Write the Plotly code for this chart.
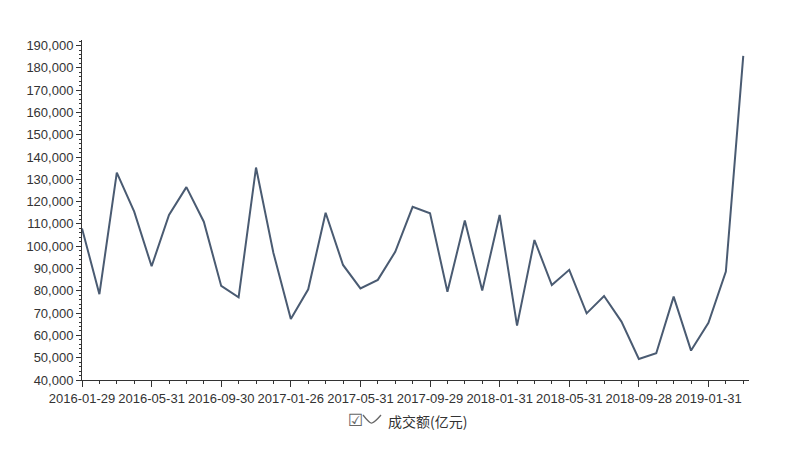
import plotly.graph_objects as go

dates = [
    "2016-01-29", "2016-02-29", "2016-03-31", "2016-04-29", "2016-05-31", "2016-06-30",
    "2016-07-29", "2016-08-31", "2016-09-30", "2016-10-31", "2016-11-30", "2016-12-30",
    "2017-01-26", "2017-02-28", "2017-03-31", "2017-04-28", "2017-05-31", "2017-06-30",
    "2017-07-31", "2017-08-31", "2017-09-29", "2017-10-31", "2017-11-30", "2017-12-29",
    "2018-01-31", "2018-02-28", "2018-03-30", "2018-04-27", "2018-05-31", "2018-06-29",
    "2018-07-31", "2018-08-31", "2018-09-28", "2018-10-31", "2018-11-30", "2018-12-28",
    "2019-01-31", "2019-02-28", "2019-03-29",
]
turnover = [
    108000, 78500, 133000, 115500, 91000, 114000,
    126500, 111000, 82200, 77100, 135300, 97000,
    67400, 80700, 115000, 91600, 81100, 84900,
    97500, 117700, 114800, 79600, 111500, 80100,
    114000, 64400, 102800, 82600, 89400, 69900,
    77700, 66200, 49400, 52000, 77400, 53200,
    65700, 88600, 185400,
]
series_name = "成交额(亿元)"

# page body has an 8px margin; target absolute pixel frame in the window
OFF = 8
W, H = 801 - OFF, 449 - OFF
ML, MT = 82 - OFF, 40 - OFF
MR = W - (749 - OFF)
MB = H - (380 - OFF)
PW, PH = W - ML - MR, H - MT - MB

def px(xa):
    return (xa - OFF - ML) / PW

def py(ya):
    return (H - MB - (ya - OFF)) / PH

x_idx = list(range(len(dates)))
tick_idx = x_idx[::4]
tick_text = [dates[i] for i in tick_idx]

fig = go.Figure()
fig.add_trace(go.Scatter(
    x=x_idx, y=turnover, mode="lines", name=series_name,
    line=dict(color="#4a5b72", width=2), showlegend=False,
))

axis_font = dict(family="Liberation Sans, Arial, sans-serif", size=13, color="#333333")

fig.update_layout(
    width=W, height=H,
    margin=dict(l=ML, r=MR, t=MT, b=MB),
    paper_bgcolor="white", plot_bgcolor="white",
    xaxis=dict(
        range=[0, 38.33], tickvals=tick_idx, ticktext=tick_text, automargin=False,
        showgrid=False, zeroline=False, showline=True, linecolor="#333333", linewidth=1,
        ticks="outside", ticklen=6, tickcolor="#333333", tickfont=axis_font,
        minor=dict(dtick=1, tick0=0, ticks="outside", ticklen=3, tickcolor="#333333", showgrid=False),
    ),
    yaxis=dict(
        range=[40000, 192500], dtick=10000, tick0=40000, tickformat=",d", automargin=False,
        showgrid=False, zeroline=False, showline=True, linecolor="#333333", linewidth=1,
        ticks="outside", ticklen=5, tickcolor="#333333", tickfont=axis_font,
        minor=dict(dtick=2000, ticks="outside", ticklen=2, tickcolor="#333333", showgrid=False),
    ),
)

# legend: checkbox, curve icon, label
fig.add_annotation(
    x=px(355), y=py(420), xref="paper", yref="paper", showarrow=False,
    xanchor="center", yanchor="middle", text="☑",
    font=dict(family="DejaVu Sans, sans-serif", size=17, color="#666666"),
)
fig.add_shape(
    type="path", xref="paper", yref="paper",
    path="M {} {} Q {} {} {} {} Q {} {} {} {}".format(
        px(363), py(415), px(370), py(424), px(372), py(423),
        px(375), py(422), px(381), py(415),
    ),
    line=dict(color="#666666", width=1.3),
)
fig.add_annotation(
    x=px(386), y=py(421), xref="paper", yref="paper", showarrow=False,
    xanchor="left", yanchor="middle", text=series_name,
    font=dict(family="Noto Sans CJK SC, sans-serif", size=14, color="#333333"),
)

fig.write_html("out.html")
